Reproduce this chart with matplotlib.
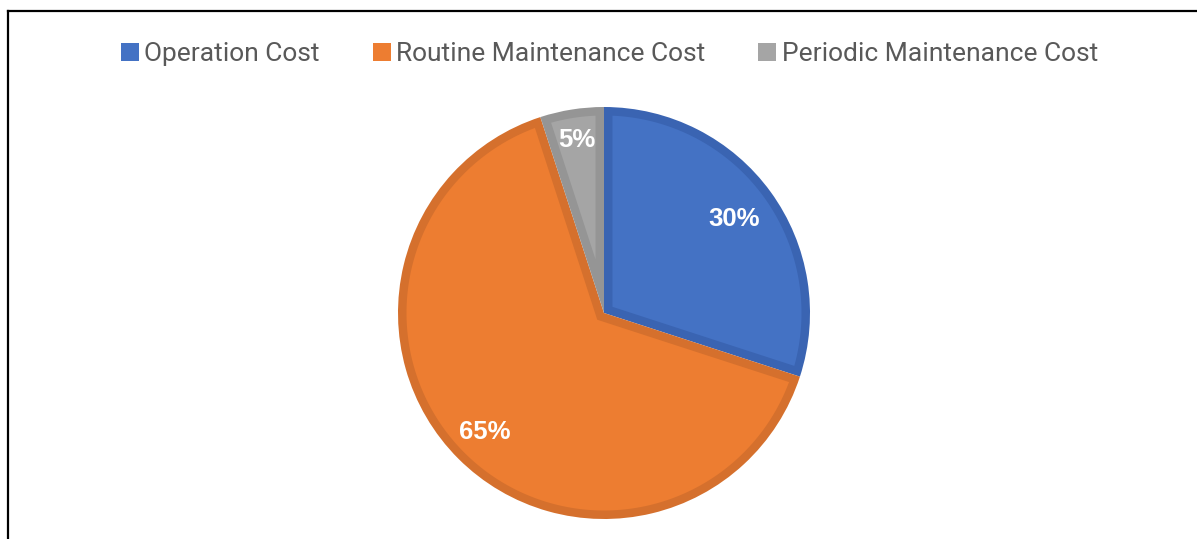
import numpy as np
import matplotlib
matplotlib.use("Agg")
import matplotlib.pyplot as plt
from matplotlib.patches import Patch, Polygon
from matplotlib.lines import Line2D

categories = ["Operation Cost", "Routine Maintenance Cost", "Periodic Maintenance Cost"]
values = [30, 65, 5]
fill_colors = ["#4472C4", "#ED7D31", "#A5A5A5"]
edge_colors = ["#3A64B2", "#D5702D", "#959595"]
label_dist = [0.78, 0.82, 0.85]

W, H = 1197, 539
fig = plt.figure(figsize=(W / 100, H / 100), dpi=100)
fig.patch.set_facecolor("white")
ax = fig.add_axes([0, 0, 1, 1])

cx, cy, R = 604, H - 313, 206
band = 8.5
wedges, texts, autotexts = ax.pie(
    values, colors=edge_colors, startangle=90, counterclock=False,
    center=(cx, cy), radius=R, autopct="%d%%", pctdistance=0.8,
    textprops=dict(color="white", fontsize=18.5, fontweight="bold",
                   family=["Liberation Sans", "DejaVu Sans"]),
    wedgeprops=dict(linewidth=0),
    frame=True,
)
ax.set_xlim(0, W)
ax.set_ylim(0, H)
ax.set_axis_off()

for w, fc, t, d in zip(wedges, fill_colors, autotexts, label_dist):
    t1, t2 = np.deg2rad(w.theta1), np.deg2rad(w.theta2)
    span = t2 - t1
    mid = (t1 + t2) / 2
    # inner (fill) region offset inward by the band width
    r_in = R - band
    a = np.arcsin(band / r_in)
    dist = band / np.sin(span / 2)
    px, py = cx + dist * np.cos(mid), cy + dist * np.sin(mid)
    phis = np.linspace(t1 + a, t2 - a, 200)
    verts = [(px, py)] + [(cx + r_in * np.cos(p), cy + r_in * np.sin(p)) for p in phis]
    inner = Polygon(verts, closed=True, facecolor=fc, edgecolor="none", zorder=w.get_zorder() + 0.1)
    ax.add_patch(inner)
    t.set_position((cx + d * R * np.cos(mid), cy + d * R * np.sin(mid)))
    t.set_ha("center")
    t.set_va("center")
    t.set_zorder(5)

handles = [Patch(facecolor=c, edgecolor="none") for c in fill_colors]
leg = fig.legend(handles, categories, loc="center", bbox_to_anchor=(609.5 / W, 1 - 54 / H),
                 ncol=3, frameon=False,
                 prop=dict(family="Roboto", size=19),
                 handlelength=0.68, handleheight=0.68, handletextpad=0.22,
                 columnspacing=2.0, borderpad=0)
for t in leg.get_texts():
    t.set_color("#595959")

# outer chart border (left and top only visible)
fig.add_artist(Line2D([7.5 / W, 7.5 / W], [0, 1 - 10.5 / H], transform=fig.transFigure,
                      color="black", linewidth=1.6))
fig.add_artist(Line2D([7.5 / W, 1], [1 - 10.5 / H, 1 - 10.5 / H], transform=fig.transFigure,
                      color="black", linewidth=1.6))

fig.savefig("out.png", dpi=100, facecolor="white")
